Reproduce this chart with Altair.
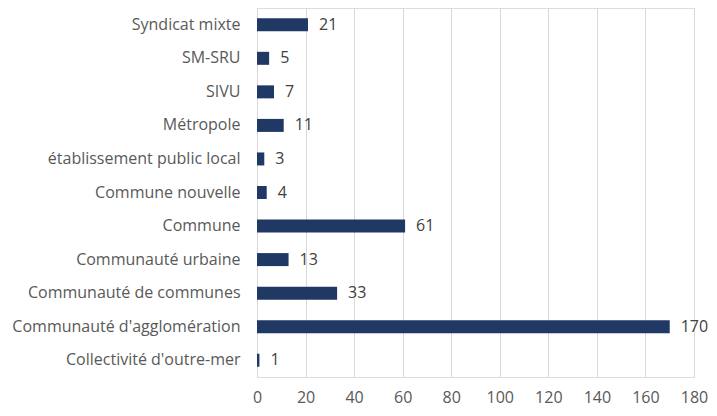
import altair as alt
import pandas as pd

categories = [
    "Syndicat mixte",
    "SM-SRU",
    "SIVU",
    "Métropole",
    "établissement public local",
    "Commune nouvelle",
    "Commune",
    "Communauté urbaine",
    "Communauté de communes",
    "Communauté d'agglomération",
    "Collectivité d'outre-mer",
]
values = [21, 5, 7, 11, 3, 4, 61, 13, 33, 170, 1]
x_ticks = [0, 20, 40, 60, 80, 100, 120, 140, 160, 180]

df = pd.DataFrame({"cat": categories, "val": values})

FONT = "Open Sans"

y_enc = alt.Y(
    "cat:N",
    sort=categories,
    title=None,
    scale=alt.Scale(paddingInner=0.0, paddingOuter=0.0),
    axis=alt.Axis(
        domain=False,
        ticks=False,
        labelPadding=17,
        labelFont=FONT,
        labelFontSize=16,
        labelColor="#595959",
        labelLimit=400,
    ),
)
x_enc = alt.X(
    "val:Q",
    title=None,
    scale=alt.Scale(domain=[0, 180], nice=False),
    axis=alt.Axis(
        values=x_ticks,
        domain=False,
        ticks=False,
        grid=True,
        gridColor="#d9d9d9",
        gridWidth=1,
        labelPadding=12,
        labelFlush=False,
        labelFont=FONT,
        labelFontSize=16,
        labelColor="#595959",
    ),
)

bars = alt.Chart(df).mark_bar(color="#1f3864", size=13).encode(x=x_enc, y=y_enc)
labels = alt.Chart(df).mark_text(
    align="left", baseline="middle", dx=11, font=FONT, fontSize=16, color="#404040"
).encode(x="val:Q", y=alt.Y("cat:N", sort=categories), text="val:Q")

chart = (
    (bars + labels)
    .properties(
        width=437,
        height=369,
        autosize=alt.AutoSizeParams(type="none"),
        padding={"left": 249, "top": 0, "right": 15, "bottom": 36},
    )
    .configure_view(stroke=None)
    .configure(background="white")
)

chart.save("out.html", embed_options={"renderer": "svg", "actions": False})
